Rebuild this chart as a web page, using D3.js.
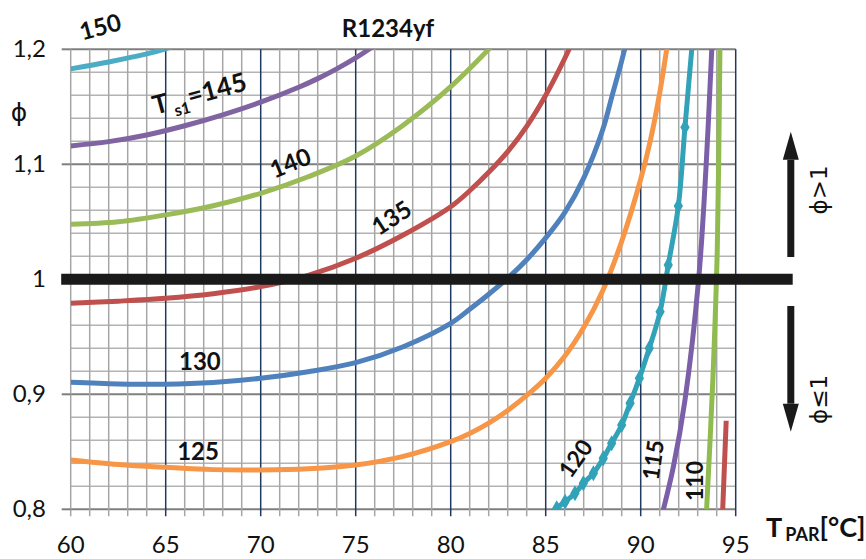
<!DOCTYPE html>
<html>
<head>
<meta charset="utf-8">
<script src="https://cdn.jsdelivr.net/npm/d3@7"></script>
<style>
  body { margin: 0; background: #fff; }
  svg { display: block; }
</style>
</head>
<body>
<div id="main"></div>
<script>
// curves of constant Ts1: [T_PAR, phi]
var c150 = [[60,1.183],[62,1.189],[64,1.196],[64.9,1.2],[66,1.206]]
var c145 = [[60,1.116],[62,1.1197],[64,1.1255],[66,1.1335],[68,1.143],[70,1.154],[72,1.167],[73,1.1745],[74,1.183],[75,1.1925],[75.7,1.2],[76.2,1.206]]
var c140 = [[60,1.0478],[62.5,1.050],[65,1.056],[67.5,1.064],[70,1.0748],[72.5,1.0892],[75,1.1072],[77.5,1.134],[80,1.1675],[82,1.2],[82.5,1.209]]
var c135 = [[60,0.9791],[62.5,0.981],[65,0.9835],[67.5,0.9875],[70,0.9936],[72.5,1.0035],[75,1.0183],[77.5,1.0385],[80,1.0631],[81,1.077],[82,1.093],[83,1.111],[84,1.133],[85,1.16],[86,1.192],[86.5,1.21]]
var c130 = [[60,0.9104],[62.5,0.909],[65,0.9087],[67.5,0.9102],[70,0.9139],[72.5,0.9196],[75,0.9275],[77.5,0.9414],[80,0.9617],[81,0.974],[82,0.987],[83,1.001],[84,1.017],[85,1.036],[86,1.058],[87,1.088],[88,1.13],[88.5,1.16],[89,1.19],[89.3,1.21]]
var c125 = [[60,0.8429],[62.5,0.839],[65,0.8365],[67.5,0.8345],[70,0.8342],[72.5,0.8352],[75,0.8385],[77.5,0.846],[80,0.8588],[81,0.866],[82,0.875],[83,0.886],[84,0.899],[85,0.914],[86,0.933],[87,0.958],[88,0.99],[89,1.033],[90,1.087],[90.5,1.12],[91,1.162],[91.37,1.2],[91.5,1.213]]
var c120 = [[85.4,0.797],[85.58,0.8009],[86.02,0.8066],[86.54,0.8139],[86.98,0.8226],[87.51,0.8313],[88.03,0.8443],[88.47,0.8574],[89.0,0.8733],[89.44,0.8922],[89.93,0.9139],[90.45,0.94],[91.02,0.9718],[91.45,1.0124],[91.98,1.0637],[92.33,1.1322],[92.75,1.212]]
var c115 = [[91.15,0.797],[91.72,0.837],[92.33,0.895],[93.05,1.0],[93.44,1.098],[93.74,1.2],[93.77,1.21]]
var c110 = [[93.46,0.797],[93.79,0.91],[94.03,1.026],[94.17,1.2],[94.18,1.21]]
var c105 = [[94.31,0.797],[94.5,0.877]]

var curves = [
  { ts: 150, pts: c150, color: "#4bacc6" },
  { ts: 145, pts: c145, color: "#8064a2" },
  { ts: 140, pts: c140, color: "#9bbb59" },
  { ts: 135, pts: c135, color: "#c0504d" },
  { ts: 130, pts: c130, color: "#4f81bd" },
  { ts: 125, pts: c125, color: "#f79646" },
  { ts: 120, pts: c120, color: "#31a2b8", marker: true },
  { ts: 115, pts: c115, color: "#7b5fa8" },
  { ts: 110, pts: c110, color: "#8fbb4f" },
  { ts: 105, pts: c105, color: "#c0504d" }
]

var xTicks = [60, 65, 70, 75, 80, 85, 90, 95]
var yTicks = [0.8, 0.9, 1.0, 1.1, 1.2]
var yTickLabels = ["0,8", "0,9", "1", "1,1", "1,2"]

// curve labels: text, T, phi, rotation
var curveLabels = [
  { t: "150", x: 61.54, y: 1.2203, r: -15 },
  { t: "140", x: 71.54, y: 1.102, r: -22 },
  { t: "135", x: 76.86, y: 1.0542, r: -33 },
  { t: "130", x: 66.8, y: 0.929, r: 0 },
  { t: "125", x: 66.7, y: 0.8515, r: 0 },
  { t: "120", x: 86.54, y: 0.8446, r: -55 },
  { t: "115", x: 90.62, y: 0.8429, r: -82 },
  { t: "110", x: 92.8, y: 0.8246, r: -90 }
]

var W = 866, H = 559
var pLeft = 70.7, pRight = 735.7, pTop = 49.3, pBottom = 509.3

var x = d3.scaleLinear().domain([60, 95]).range([pLeft, pRight])
var y = d3.scaleLinear().domain([0.8, 1.2]).range([pBottom, pTop])

var svg = d3.select("#main").append("svg").attr("width", W).attr("height", H)

svg.append("defs").append("clipPath").attr("id", "plot")
  .append("rect").attr("x", pLeft).attr("y", pTop).attr("width", pRight - pLeft).attr("height", pBottom - pTop)

// grid
var g = svg.append("g")
g.selectAll(".hy").data(d3.range(0, 21))
  .enter().append("line")
  .attr("x1", pLeft).attr("x2", pRight)
  .attr("y1", i => y(0.8 + i * 0.02)).attr("y2", i => y(0.8 + i * 0.02))
  .attr("stroke", i => i % 5 === 0 ? "#7f7f7f" : "#b3b3b3")
  .attr("stroke-width", i => i % 5 === 0 ? 2 : 1.5)
g.selectAll(".vx").data(d3.range(60, 96))
  .enter().append("line")
  .attr("x1", d => x(d)).attr("x2", d => x(d))
  .attr("y1", pTop).attr("y2", pBottom + 7)
  .attr("stroke", d => d % 5 === 0 && d !== 60 ? "#1f3a5f" : "#a6a6a6")
  .attr("stroke-width", 1.5)
// y ticks
g.selectAll(".yt").data(yTicks)
  .enter().append("line")
  .attr("x1", pLeft - 9).attr("x2", pLeft)
  .attr("y1", d => y(d)).attr("y2", d => y(d))
  .attr("stroke", "#7f7f7f").attr("stroke-width", 2)

// tick labels
svg.selectAll(".xl").data(xTicks)
  .enter().append("text")
  .attr("x", d => x(d)).attr("y", 553)
  .attr("text-anchor", "middle")
  .attr("font-family", "Lato, 'Open Sans', sans-serif").attr("font-size", 24)
  .attr("fill", "#111")
  .text(d => d)
svg.selectAll(".yl").data(yTicks)
  .enter().append("text")
  .attr("x", 46).attr("y", d => y(d) + 8)
  .attr("text-anchor", "end")
  .attr("font-family", "Lato, 'Open Sans', sans-serif").attr("font-size", 24)
  .attr("fill", "#111")
  .text((d, i) => yTickLabels[i])

// curves
var line = d3.line().x(d => x(d[0])).y(d => y(d[1])).curve(d3.curveCatmullRom.alpha(0.5))
var plot = svg.append("g").attr("clip-path", "url(#plot)")
plot.selectAll("path").data(curves)
  .enter().append("path")
  .attr("d", d => line(d.pts))
  .attr("fill", "none")
  .attr("stroke", d => d.color)
  .attr("stroke-width", 5)
  .attr("stroke-linecap", "butt")

var mk = curves.filter(d => d.marker)[0]
plot.selectAll(".mk").data(mk.pts.filter(p => p[1] > 0.8 && p[1] < 1.19))
  .enter().append("path")
  .attr("transform", p => `translate(${x(p[0])},${y(p[1])})`)
  .attr("d", d3.symbol().type(d3.symbolDiamond).size(75))
  .attr("fill", mk.color)

// phi = 1 line
svg.append("line")
  .attr("x1", x(59.5)).attr("x2", x(98))
  .attr("y1", y(1)).attr("y2", y(1))
  .attr("stroke", "#1a1a1a").attr("stroke-width", 11)

// curve labels
svg.selectAll(".cl").data(curveLabels)
  .enter().append("text")
  .attr("transform", d => `translate(${x(d.x)},${y(d.y)}) rotate(${d.r})`)
  .attr("text-anchor", "middle").attr("dominant-baseline", "central")
  .attr("font-family", "Lato, 'Open Sans', sans-serif").attr("font-weight", "bold")
  .attr("font-size", d => d.r <= -55 ? 23 : 24)
  .attr("fill", "#111")
  .text(d => d.t)

var ts = svg.append("text")
  .attr("transform", `translate(${x(64.45)},${y(1.143)}) rotate(-15)`)
  .attr("font-family", "Lato, 'Open Sans', sans-serif").attr("font-weight", "bold")
  .attr("font-size", 26).attr("fill", "#111")
ts.append("tspan").text("T")
ts.append("tspan").attr("dx", 4).attr("dy", 7).attr("font-size", 16).text("s1")
ts.append("tspan").attr("dy", -7).text("=145")

// title
svg.append("text")
  .attr("x", 388).attr("y", 37)
  .attr("text-anchor", "middle")
  .attr("font-family", "Lato, 'Open Sans', sans-serif").attr("font-weight", "bold")
  .attr("font-size", 24).attr("fill", "#111")
  .text("R1234yf")

// axis titles
svg.append("text")
  .attr("x", 19).attr("y", 121)
  .attr("text-anchor", "middle")
  .attr("font-family", "'DejaVu Sans', sans-serif")
  .attr("font-size", 25).attr("fill", "#111")
  .text("ϕ")

var xt = svg.append("text")
  .attr("x", 766).attr("y", 537)
  .attr("font-family", "Lato, 'Open Sans', sans-serif").attr("font-weight", "bold")
  .attr("font-size", 27).attr("fill", "#111")
xt.append("tspan").text("T")
xt.append("tspan").attr("dx", 3).attr("dy", 4).attr("font-size", 18).text("PAR")
xt.append("tspan").attr("dy", -4).text("[°C]")

// arrows
var arrows = [
  { from: 1.0194, to: 1.1283, label: "ϕ>1", ly: 1.0777 },
  { from: 0.9768, to: 0.8675, label: "ϕ≤1", ly: 0.8955 }
]
var ax = x(97.9)
arrows.forEach(a => {
  var dir = a.to > a.from ? 1 : -1
  var y0 = y(a.from), y1 = y(a.to), yb = y1 + dir * 28
  svg.append("line")
    .attr("x1", ax).attr("x2", ax).attr("y1", y0).attr("y2", yb)
    .attr("stroke", "#1a1a1a").attr("stroke-width", 7)
  svg.append("path")
    .attr("d", `M${ax - 8},${yb}L${ax + 8},${yb}L${ax},${y1}Z`)
    .attr("fill", "#1a1a1a")
  svg.append("text")
    .attr("transform", `translate(${ax + 28},${y(a.ly)}) rotate(-90)`)
    .attr("text-anchor", "middle").attr("dominant-baseline", "central")
    .attr("font-family", "'DejaVu Sans', sans-serif")
    .attr("font-size", 23).attr("fill", "#111")
    .text(a.label)
})
</script>
</body>
</html>
